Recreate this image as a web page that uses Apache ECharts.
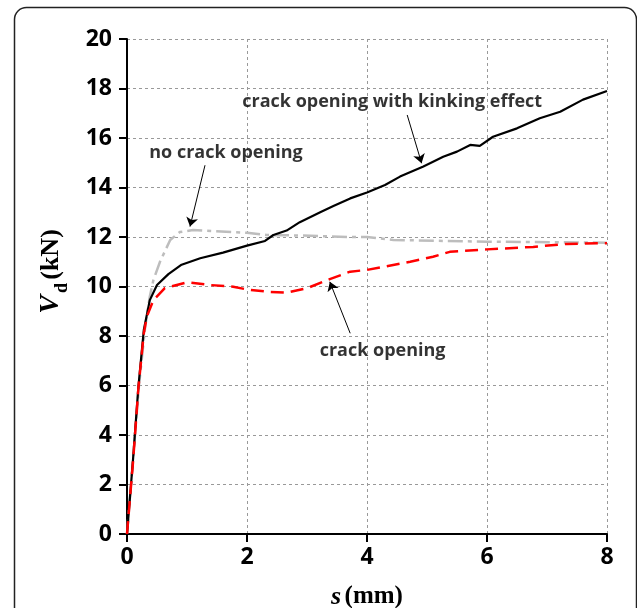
<!DOCTYPE html>
<html>
<head>
<meta charset="utf-8">
<script src="https://cdn.jsdelivr.net/npm/echarts@6/dist/echarts.min.js"></script>
<style>
  html, body { margin: 0; padding: 0; background: #fff; }
  #main { width: 637px; height: 608px; }
</style>
</head>
<body>
<div id="main"></div>
<script>
// crack opening with kinking effect (black solid)
var kinkS = [0, 0.1, 0.19, 0.28, 0.38, 0.5, 0.69, 0.91, 1.22, 1.6, 2.0, 2.3, 2.44, 2.66, 2.88, 3.22, 3.44, 3.72, 4.0, 4.3, 4.55, 4.94, 5.27, 5.5, 5.72, 5.88, 6.1, 6.5, 6.88, 7.22, 7.6, 8.0]
var kinkV = [0, 3.0, 5.95, 8.24, 9.45, 10.06, 10.5, 10.88, 11.14, 11.37, 11.65, 11.84, 12.08, 12.26, 12.6, 13.0, 13.25, 13.56, 13.8, 14.1, 14.44, 14.85, 15.24, 15.45, 15.72, 15.68, 16.05, 16.39, 16.8, 17.06, 17.55, 17.9]
// no crack opening (grey dash-dot)
var noCrackS = [0, 0.1, 0.2, 0.3, 0.38, 0.44, 0.55, 0.72, 0.88, 1.1, 2.0, 2.33, 2.88, 3.72, 4.0, 4.44, 6.0, 8.0]
var noCrackV = [0, 3.0, 6.0, 8.3, 9.6, 10.26, 11.0, 11.88, 12.2, 12.28, 12.17, 12.08, 12.06, 12.0, 12.0, 11.88, 11.81, 11.77]
// crack opening (red dashed)
var crackS = [0, 0.1, 0.19, 0.28, 0.33, 0.44, 0.63, 1.0, 1.38, 1.77, 2.0, 2.33, 2.66, 3.0, 3.38, 3.72, 4.0, 4.72, 5.1, 5.38, 6.0, 6.77, 7.33, 8.0]
var crackV = [0, 2.9, 5.9, 8.1, 8.78, 9.45, 9.93, 10.17, 10.06, 9.99, 9.88, 9.79, 9.75, 9.93, 10.3, 10.6, 10.67, 11.0, 11.2, 11.4, 11.5, 11.6, 11.72, 11.75]

var xTicks = [0, 2, 4, 6, 8]
var yTicks = [0, 2, 4, 6, 8, 10, 12, 14, 16, 18, 20]

// annotations: label text, label anchor, arrow start, arrow end (data units)
var noteText = ['crack opening with kinking effect', 'no crack opening', 'crack opening']
var noteAt = [[4.42, 17.45], [1.65, 15.39], [4.26, 7.39]]
var arrowFrom = [[4.67, 16.93], [1.3, 14.9], [3.72, 8.11]]
var arrowTo = [[4.91, 14.98], [1.05, 12.42], [3.38, 10.19]]

function zip (xs, ys) {
  return xs.map(function (x, i) { return [x, ys[i]] })
}

var chart = echarts.init(document.getElementById('main'))
var tickFont = { fontFamily: 'Open Sans', fontWeight: 'bold', fontSize: 23, color: '#000' }

var option = {
  animation: false,
  backgroundColor: '#fff',
  // 固定绘图区，不让 v6 自动收缩
  grid: { left: 127, top: 39, width: 480, height: 495, containLabel: false, outerBoundsMode: 'none' },
  graphic: [
    {
      type: 'rect',
      shape: { x: 14.5, y: 7.5, width: 622, height: 640, r: 12 },
      style: { fill: 'none', stroke: '#222', lineWidth: 1.5 },
      silent: true
    }
  ],
  xAxis: {
    type: 'value',
    min: 0,
    max: 8,
    interval: 2,
    axisLine: { show: true, lineStyle: { color: '#000', width: 2 } },
    axisTick: { show: true, inside: false, length: 8, lineStyle: { color: '#000', width: 2 } },
    axisLabel: Object.assign({ margin: 12, formatter: function (v) { return xTicks.indexOf(v) >= 0 ? String(v) : '' } }, tickFont),
    splitLine: { show: true, lineStyle: { color: '#999', width: 1, type: [3, 3] } },
    name: '{s|s} {u|(mm)}',
    nameLocation: 'middle',
    nameGap: 50,
    nameTextStyle: {
      rich: {
        s: { fontFamily: 'Liberation Serif', fontStyle: 'italic', fontWeight: 'bold', fontSize: 26, color: '#000' },
        u: { fontFamily: 'Liberation Serif', fontWeight: 'bold', fontSize: 25, color: '#000' }
      }
    }
  },
  yAxis: {
    type: 'value',
    min: 0,
    max: 20,
    interval: 2,
    axisLine: { show: true, onZero: false, lineStyle: { color: '#000', width: 2 } },
    axisTick: { show: true, inside: false, length: 8, lineStyle: { color: '#000', width: 2 } },
    axisLabel: Object.assign({ margin: 15, formatter: function (v) { return yTicks.indexOf(v) >= 0 ? String(v) : '' } }, tickFont),
    splitLine: { show: true, lineStyle: { color: '#999', width: 1, type: [3, 3] } },
    name: '{v|V}{d|d} {u|(kN)}',
    nameLocation: 'middle',
    nameRotate: 90,
    nameGap: 56,
    nameTextStyle: {
      padding: [0, 0, 0, 30],
      rich: {
        v: { fontFamily: 'Liberation Serif', fontStyle: 'italic', fontWeight: 'bold', fontSize: 28, color: '#000', padding: [0, 2, 0, 0] },
        d: { fontFamily: 'Liberation Serif', fontWeight: 'bold', fontSize: 18, color: '#000', verticalAlign: 'bottom', padding: [22, 0, 0, 0] },
        u: { fontFamily: 'Liberation Serif', fontWeight: 'bold', fontSize: 26, color: '#000' }
      }
    }
  },
  series: [
    {
      name: 'no crack opening',
      type: 'line',
      data: zip(noCrackS, noCrackV),
      showSymbol: false,
      symbol: 'none',
      lineStyle: { color: '#bdbdbd', width: 2.5, type: [15, 5, 4, 5] },
      z: 2
    },
    {
      name: 'crack opening with kinking effect',
      type: 'line',
      data: zip(kinkS, kinkV),
      showSymbol: false,
      symbol: 'none',
      lineStyle: { color: '#000', width: 2.2 },
      z: 3
    },
    {
      name: 'crack opening',
      type: 'line',
      data: zip(crackS, crackV),
      showSymbol: false,
      symbol: 'none',
      lineStyle: { color: '#ff0000', width: 2.5, type: [13, 7] },
      z: 4
    },
    {
      name: 'arrows',
      type: 'lines',
      coordinateSystem: 'cartesian2d',
      symbol: ['none', 'arrow'],
      symbolSize: 9,
      lineStyle: { color: '#000', width: 1, opacity: 1 },
      data: arrowFrom.map(function (p, i) { return { coords: [p, arrowTo[i]] } }),
      z: 5
    },
    {
      name: 'notes',
      type: 'scatter',
      symbolSize: 1,
      itemStyle: { color: 'rgba(0,0,0,0)' },
      label: {
        show: true,
        position: 'inside',
        formatter: function (p) { return p.name },
        fontFamily: 'Open Sans',
        fontWeight: 'bold',
        fontSize: 18,
        color: '#000'
      },
      data: noteText.map(function (t, i) { return { name: t, value: noteAt[i] } }),
      z: 6
    }
  ]
}

chart.setOption(option)
</script>
</body>
</html>
